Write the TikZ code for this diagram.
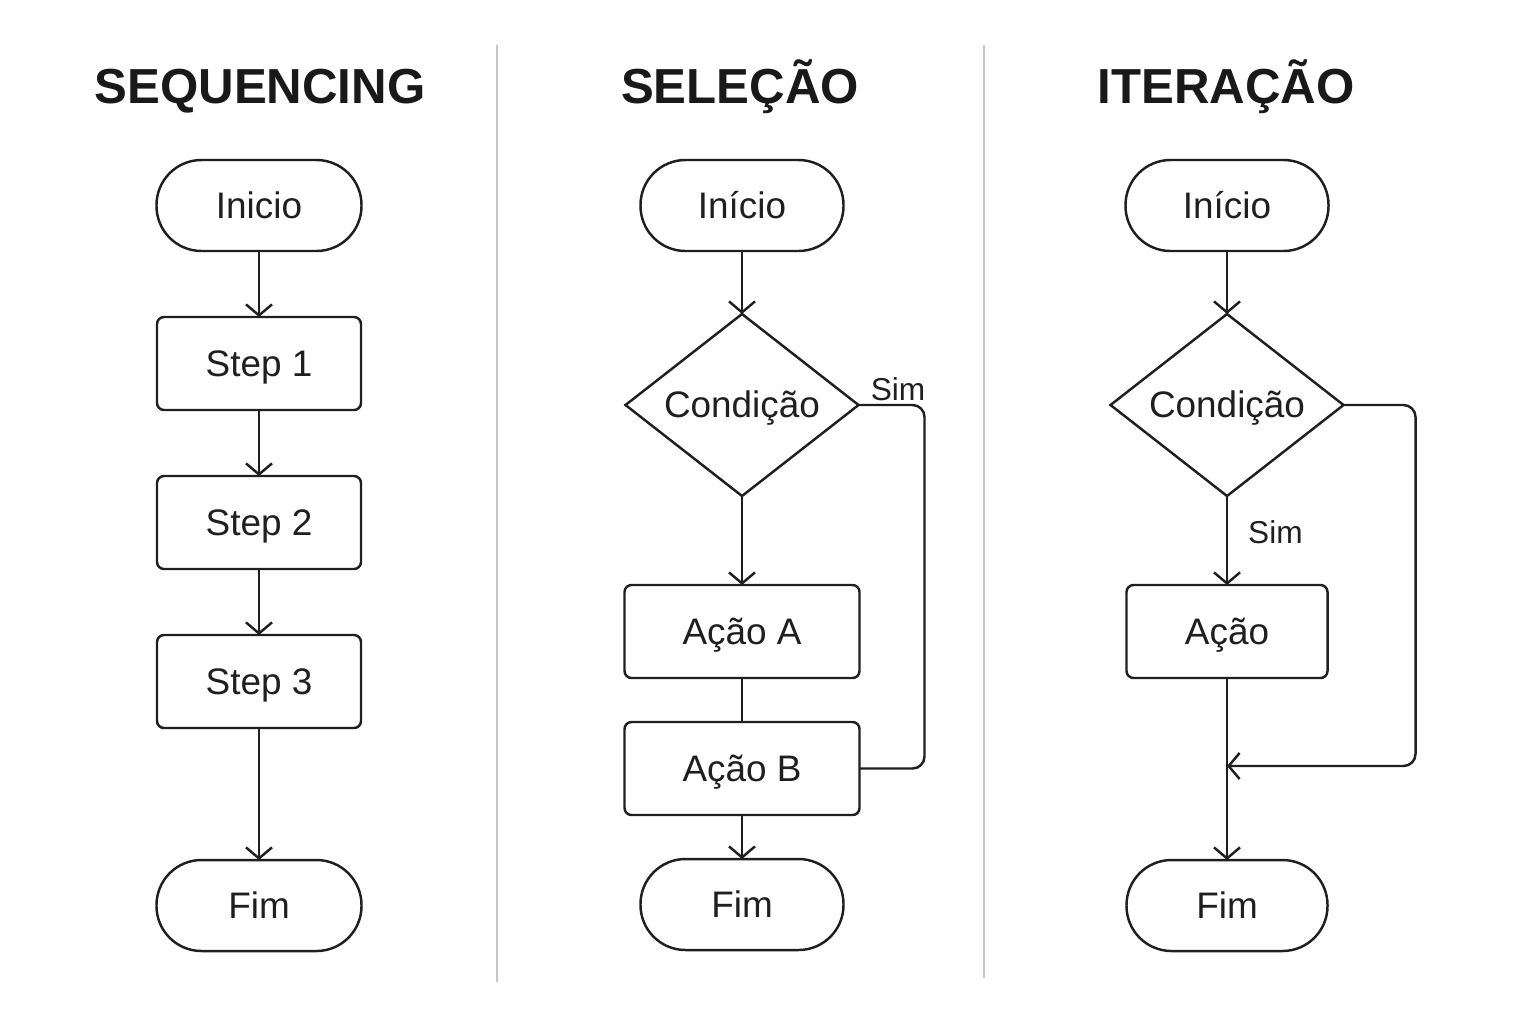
\documentclass[tikz,border=0pt]{standalone}
\usepackage{fontspec}
\setmainfont{Liberation Sans}
\usetikzlibrary{arrows.meta,positioning,shapes.geometric}

\begin{document}
\begin{tikzpicture}
\colorlet{shape edge}{black!88}
\colorlet{rule line}{black!22}
\tikzset{
     base/.style={draw=shape edge, line width=0.7pt, outer sep=0pt, text=black!88, text height=1.6ex, text depth=0.25ex, font=\fontsize{10.5}{12}\selectfont},
     terminal/.style={base, rectangle, rounded corners=4.5mm, minimum width=2.05cm, minimum height=0.91cm},
     process/.style={base, rectangle, rounded corners=0.7mm, minimum height=0.93cm},
     decision/.style={base, diamond, aspect=1.3, inner sep=0pt, minimum width=2.33cm, minimum height=1.82cm},
     flow/.style={draw=shape edge, line width=0.7pt},
     arrow/.style={flow, -{Straight Barb[length=1.1mm, width=2.6mm]}},
     title/.style={anchor=base, font=\fontsize{14}{17}\selectfont\bfseries, text=black!90},
     label/.style={font=\fontsize{9}{11}\selectfont, text=black!88, inner sep=1pt}}

\useasboundingbox (0,0) rectangle (15.36,-10.24);

% The titles
\node[title] (seqtitle) at (2.60,-1.03) {SEQUENCING};
\node[title] (seltitle) at (7.40,-1.03) {SELEÇÃO};
\node[title] (ittitle)  at (12.26,-1.03) {ITERAÇÃO};

% The separators
\draw [rule line, line width=0.5pt] (4.97,-0.45) -- (4.97,-9.82);
\draw [rule line, line width=0.5pt] (9.84,-0.45) -- (9.84,-9.78);

% Sequencing
\node (seqstart) [terminal] at (2.59,-2.055) {Inicio};
\node (step1) [process, minimum width=2.04cm, below=0.66cm of seqstart] {Step 1};
\node (step2) [process, minimum width=2.04cm, below=0.66cm of step1] {Step 2};
\node (step3) [process, minimum width=2.04cm, below=0.66cm of step2] {Step 3};
\node (seqend) [terminal, below=1.32cm of step3] {Fim};
\draw [arrow] (seqstart) -- (step1);
\draw [arrow] (step1) -- (step2);
\draw [arrow] (step2) -- (step3);
\draw [arrow] (step3) -- (seqend);

% Selection
\node (selstart) [terminal, minimum width=2.03cm] at (7.42,-2.055) {Início};
\node (selcond) [decision, below=0.63cm of selstart] {Condição};
\node (actiona) [process, minimum width=2.35cm, below=0.89cm of selcond] {Ação A};
\node (actionb) [process, minimum width=2.35cm, below=0.44cm of actiona] {Ação B};
\node (selend) [terminal, minimum width=2.03cm, below=0.44cm of actionb] {Fim};
\draw [arrow] (selstart) -- (selcond);
\draw [arrow] (selcond) -- (actiona);
\draw [flow] (actiona) -- (actionb);
\draw [arrow] (actionb) -- (selend);
\draw [flow, rounded corners=1.2mm] (selcond.east) -- ++(0.66,0) |- (actionb.east);
\node [label] at (8.98,-3.89) {Sim};

% Iteration
\node (itstart) [terminal, minimum width=2.03cm] at (12.27,-2.055) {Início};
\node (itcond) [decision, below=0.63cm of itstart] {Condição};
\node (action) [process, minimum width=2.01cm, below=0.89cm of itcond] {Ação};
\node (itend) [terminal, minimum width=2.01cm, below=1.82cm of action] {Fim};
\coordinate (merge) at ([yshift=-0.88cm]action.south);
\draw [arrow] (itstart) -- (itcond);
\draw [arrow] (itcond) -- (action);
\draw [arrow] (action) -- (itend);
\draw [arrow, rounded corners=1.2mm] (itcond.east) -- ++(0.72,0) |- (merge);
\node [label, anchor=west] at (12.44,-5.32) {Sim};
\end{tikzpicture}
\end{document}
